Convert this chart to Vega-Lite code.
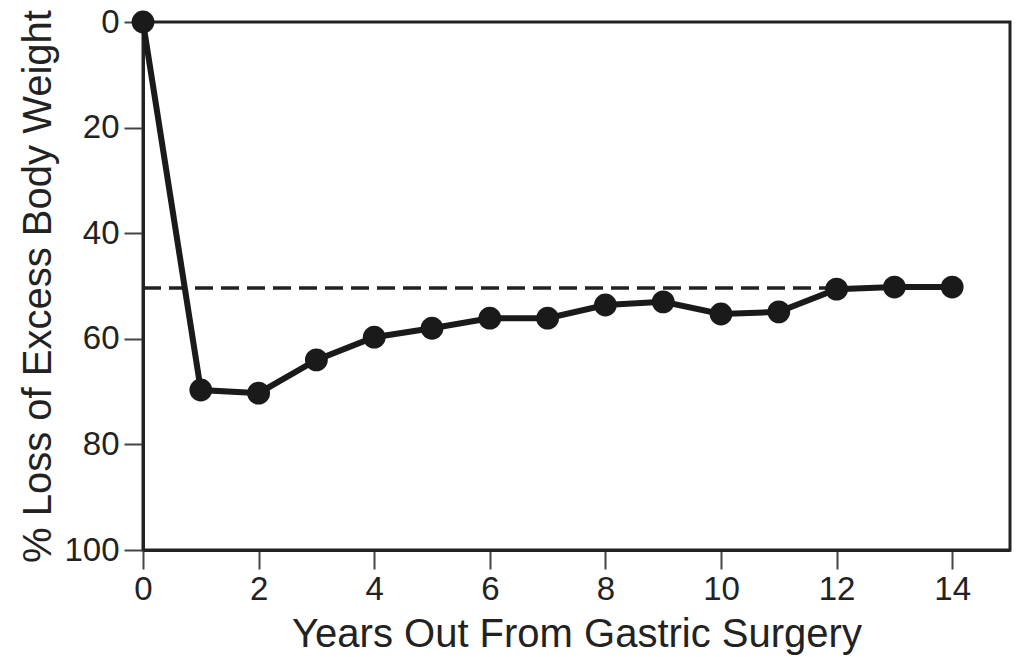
{
  "$schema": "https://vega.github.io/schema/vega-lite/v6.json",
  "width": 867,
  "height": 528,
  "autosize": {"type": "none"},
  "padding": {"left": 143, "top": 22, "right": 10, "bottom": 107},
  "background": "white",
  "config": {
    "font": "Liberation Sans",
    "view": {"stroke": "#222222", "strokeWidth": 3},
    "axis": {
      "domainColor": "#222222",
      "domainWidth": 3,
      "tickColor": "#444444",
      "tickWidth": 2,
      "tickSize": 19,
      "grid": false,
      "labelFont": "Liberation Sans",
      "labelFontSize": 33,
      "labelColor": "#222222",
      "titleFont": "Liberation Sans",
      "titleFontSize": 40,
      "titleFontWeight": "normal",
      "titleColor": "#222222"
    }
  },
  "datasets": {
    "series": [
      {"year": 0, "loss": 0},
      {"year": 1, "loss": 69.7},
      {"year": 2, "loss": 70.3},
      {"year": 3, "loss": 64.0},
      {"year": 4, "loss": 59.7},
      {"year": 5, "loss": 58.0},
      {"year": 6, "loss": 56.1},
      {"year": 7, "loss": 56.1},
      {"year": 8, "loss": 53.6},
      {"year": 9, "loss": 53.0},
      {"year": 10, "loss": 55.3},
      {"year": 11, "loss": 54.9},
      {"year": 12, "loss": 50.6},
      {"year": 13, "loss": 50.2},
      {"year": 14, "loss": 50.2}
    ],
    "reference": [
      {"start": 0, "end": 14, "level": 50.4}
    ]
  },
  "layer": [
    {
      "data": {"name": "reference"},
      "mark": {"type": "rule", "color": "#222222", "strokeWidth": 3.5, "strokeDash": [18, 8]},
      "encoding": {
        "x": {"field": "start", "type": "quantitative"},
        "x2": {"field": "end"},
        "y": {"field": "level", "type": "quantitative"}
      }
    },
    {
      "data": {"name": "series"},
      "mark": {"type": "line", "color": "#1a1a1a", "strokeWidth": 6, "point": {"filled": true, "size": 520, "color": "#1a1a1a", "opacity": 1}},
      "encoding": {
        "x": {
          "field": "year",
          "type": "quantitative",
          "scale": {"domain": [0, 15], "nice": false, "zero": false},
          "axis": {
            "title": "Years Out From Gastric Surgery",
            "values": [0, 2, 4, 6, 8, 10, 12, 14],
            "format": "d",
            "labelPadding": 4,
            "titleY": 64,
            "labelFlush": false
          }
        },
        "y": {
          "field": "loss",
          "type": "quantitative",
          "scale": {"domain": [0, 100], "reverse": true, "nice": false},
          "axis": {
            "title": "% Loss of Excess Body Weight",
            "values": [0, 20, 40, 60, 80, 100],
            "format": "d",
            "labelPadding": 5,
            "titleX": -85,
            "titleY": 264,
            "titleAngle": -90,
            "titleBaseline": "bottom",
            "titleAnchor": "middle",
            "titleAlign": "center",
            "labelFlush": false
          }
        }
      }
    }
  ]
}
